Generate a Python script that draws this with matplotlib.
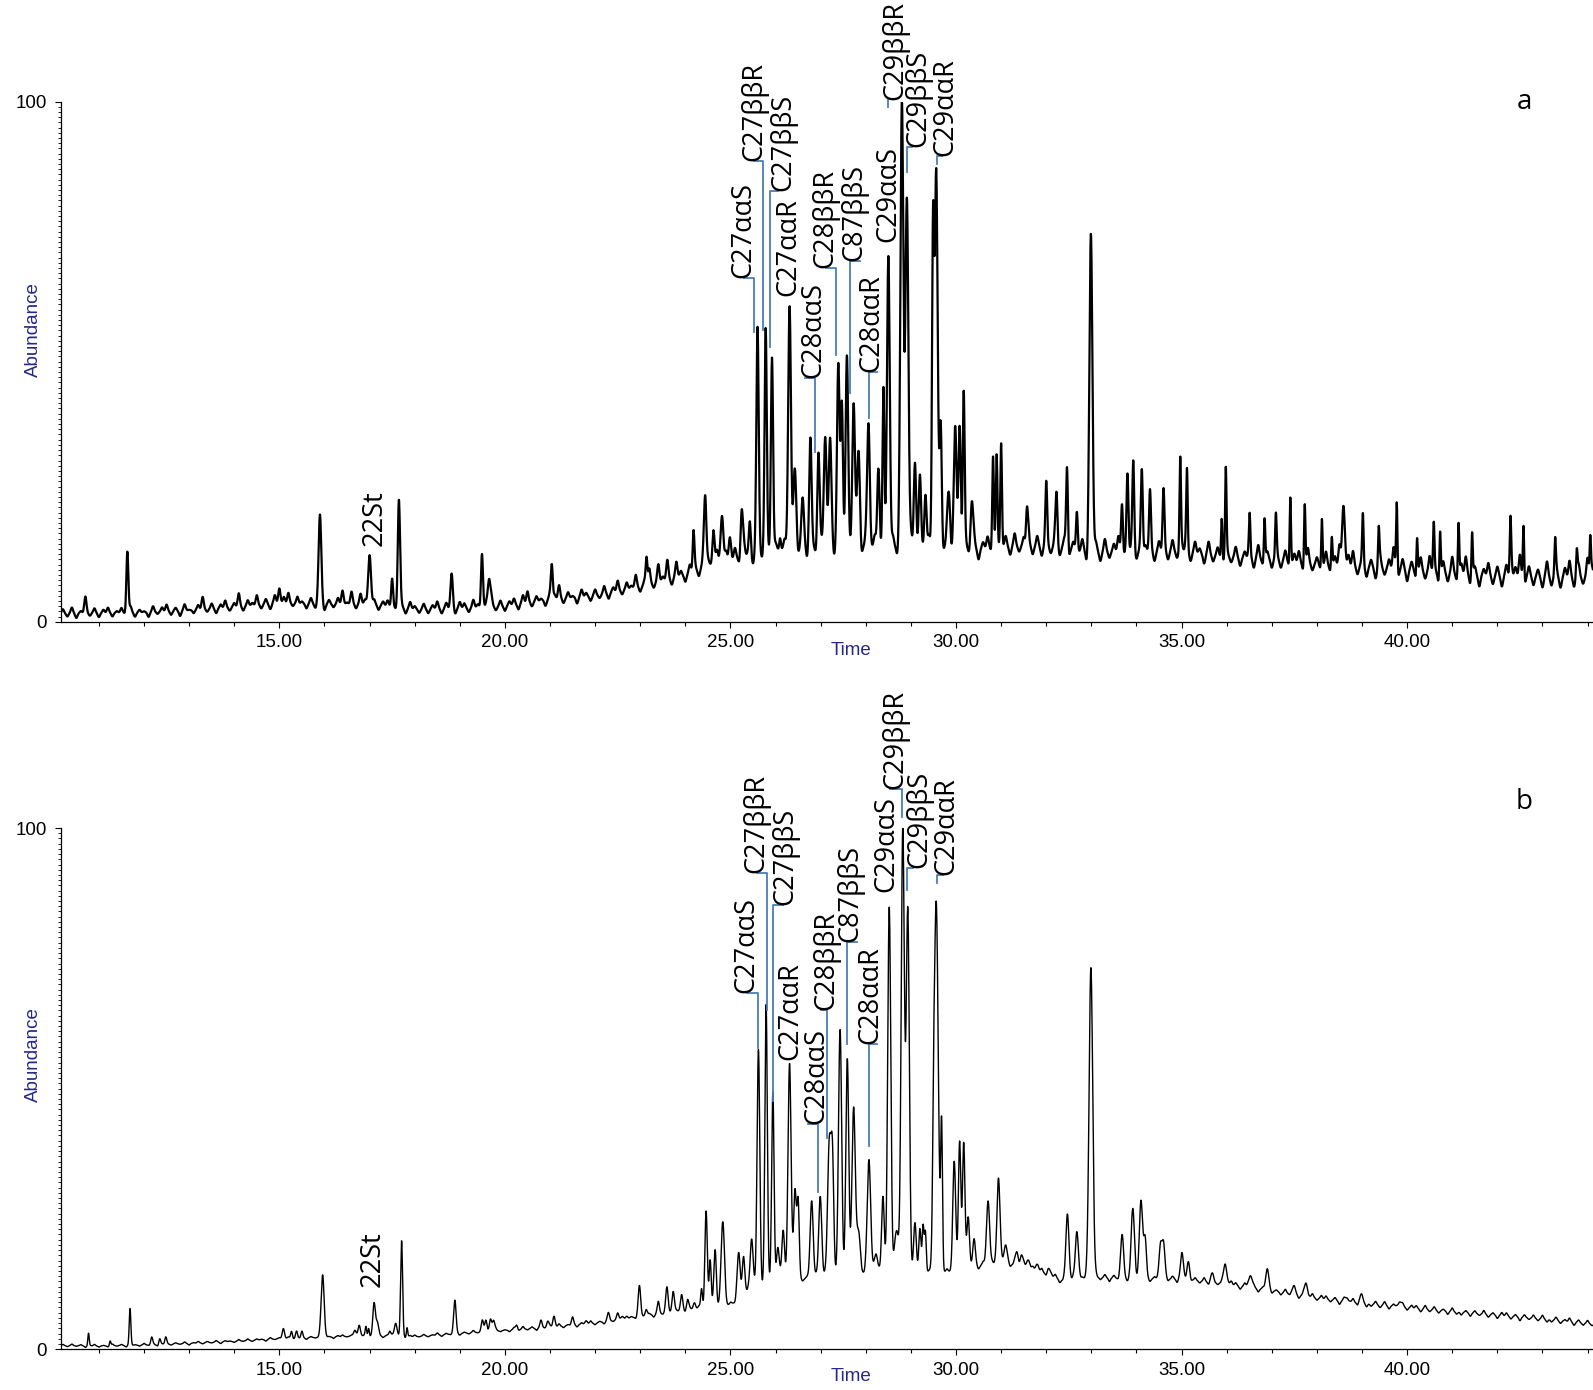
import numpy as np
import matplotlib.pyplot as plt
from matplotlib.ticker import MultipleLocator, FixedLocator

# ---- chromatogram a ----
# baseline knots: retention time (min) and level (% abundance)
base_t_a = [10.16, 12, 13, 14, 15, 16, 17, 18, 19, 20, 21, 22, 23, 24, 24.5, 25, 26, 27, 28, 29,
            30, 30.5, 31, 32, 33, 34, 35, 36, 37, 38, 39, 40, 41, 42, 43, 44.12]
base_a = [1.6, 1.8, 2.2, 2.8, 3.6, 3.4, 3.4, 2.4, 2.6, 3.0, 4.3, 5.0, 6.8, 9.0, 11.0, 12.0, 14.0, 14.5, 14.5, 14.5,
          14.5, 14.0, 14.5, 14.5, 13.5, 13.5, 13.5, 12.5, 12.0, 11.0, 10.5, 10.0, 9.3, 8.8, 8.6, 8.5]

# peaks: (retention time, height above baseline, sigma in min)
peaks_a = [
    (11.63, 12.0, 0.022), (15.90, 16.6, 0.03), (17.00, 10.0, 0.03), (17.50, 5.0, 0.02),
    (17.65, 20.7, 0.025), (18.82, 6.5, 0.025), (19.49, 8.0, 0.02), (19.65, 5.0, 0.025),
    (21.04, 6.4, 0.02), (23.14, 5.0, 0.018), (24.18, 6.6, 0.018), (24.44, 13.0, 0.025),
    (24.62, 7.4, 0.025), (24.81, 9.8, 0.03), (24.99, 5.6, 0.025), (25.25, 9.0, 0.025),
    (25.43, 6.0, 0.02), (25.60, 42.0, 0.026), (25.78, 41.5, 0.024), (25.92, 38.0, 0.024),
    (26.10, 4.0, 0.02), (26.31, 48.0, 0.03), (26.43, 14.0, 0.03), (26.60, 8.0, 0.03),
    (26.77, 20.0, 0.025), (26.95, 18.0, 0.025), (27.10, 22.0, 0.03), (27.21, 19.0, 0.03),
    (27.39, 34.0, 0.028), (27.47, 28.0, 0.025), (27.58, 35.0, 0.028), (27.73, 28.0, 0.03),
    (27.84, 18.0, 0.03), (28.06, 24.0, 0.03), (28.28, 16.0, 0.025), (28.39, 29.0, 0.02),
    (28.50, 57.0, 0.03), (28.80, 84.0, 0.033), (28.91, 68.0, 0.033), (29.09, 17.0, 0.025),
    (29.20, 12.0, 0.025), (29.32, 11.0, 0.025), (29.49, 60.0, 0.022), (29.56, 72.0, 0.032),
    (29.66, 24.0, 0.025), (29.84, 10.0, 0.03), (29.98, 22.0, 0.03), (30.08, 24.0, 0.025),
    (30.17, 29.0, 0.02), (30.35, 9.0, 0.03), (30.82, 18.5, 0.018), (30.90, 16.0, 0.018),
    (31.00, 21.0, 0.018), (31.57, 6.0, 0.02), (32.00, 9.0, 0.02), (32.23, 9.0, 0.02),
    (32.46, 16.0, 0.02), (32.68, 8.0, 0.02), (32.99, 62.5, 0.033), (33.68, 10.0, 0.02),
    (33.80, 11.0, 0.02), (33.93, 16.5, 0.02), (34.12, 14.0, 0.02), (34.30, 9.0, 0.02),
    (34.60, 9.0, 0.02), (34.97, 17.5, 0.016), (35.12, 14.5, 0.016), (35.89, 9.0, 0.015),
    (35.98, 16.0, 0.015), (36.51, 6.5, 0.015), (36.84, 8.0, 0.015), (37.09, 6.5, 0.015),
    (37.41, 14.0, 0.015), (37.73, 12.0, 0.015), (38.11, 10.5, 0.015), (38.33, 6.0, 0.015),
    (38.59, 13.0, 0.03), (39.02, 9.0, 0.015), (39.37, 7.0, 0.015), (39.77, 13.5, 0.015),
    (40.22, 7.5, 0.015), (40.59, 8.3, 0.015), (40.73, 8.7, 0.015), (41.14, 10.0, 0.015),
    (41.44, 8.5, 0.015), (42.29, 8.3, 0.015), (42.58, 11.0, 0.015), (43.28, 6.0, 0.015),
    (43.76, 5.0, 0.015), (44.06, 7.5, 0.015),
]

# noise of trace a, one value every 0.1 min starting at 10.2 min
noise_a = [
    0.8, -0.6, 1.1, -0.9, 0.4, 3.2, -0.5, 0.9, -0.8, 0.6,
    1.0, -0.7, 0.3, 0.9, -0.6, 1.2, -0.8, 0.5, 0.2, -0.9,
    1.1, -0.4, 0.8, 1.3, -0.7, 0.6, -1.0, 1.2, 0.1, -0.6,
    0.9, 2.4, -0.5, 1.0, -0.9, 0.7, 1.4, -0.6, 0.8, 2.6,
    -0.8, 1.1, 0.5, 1.9, -0.7, 1.0, -1.0, 1.6, 2.8, 1.2,
    2.0, -0.5, 1.3, 0.4, -0.9, 1.1, -0.8, 0.6, -1.2, 0.8,
    -0.6, 1.2, 2.6, 0.3, 2.4, -0.8, 2.0, 0.9, -0.6, 1.0,
    -0.9, 0.8, 1.1, 0.4, -0.7, 0.9, -1.0, 1.3, 0.6, -0.7,
    1.0, -0.8, 0.7, 1.4, -0.9, 1.1, 0.3, -1.0, 1.2, 0.9,
    -0.8, 1.5, 0.6, 2.4, 1.3, 2.0, -0.7, 1.1, -0.9, 0.8,
    1.2, -1.0, 1.6, 2.2, -0.8, 1.0, 0.4, -1.1, 1.3, 0.9,
    2.6, -0.9, 1.1, 0.3, -1.2, 1.4, 0.7, -0.9, 1.2, -0.6,
    1.5, -1.1, 0.9, 2.0, -0.8, 1.3, 0.5, 2.4, -1.0, 1.1,
    3.0, -0.9, 3.4, 0.8, 3.8, -1.2, 3.0, 1.0, -1.3, 1.6,
    1.8, -1.4, 2.1, 1.0, -1.6, 2.4, -1.2, 1.8, -1.5, 2.0,
    -1.3, 2.2, 1.0, -1.8, 1.5, -1.0, 2.0, -1.5, 1.2, -2.0,
    1.8, -1.6, 2.5, -1.2, 1.6, -2.0, 2.2, -1.5, 1.8, -1.0,
    2.0, -1.8, 1.2, -1.5, 2.4, -1.2, 1.6, -2.0, 1.5, -1.6,
    2.2, -1.5, 1.8, -1.2, 2.0, -1.8, 1.5, -1.3, 2.4, -1.0,
    1.8, -1.6, 2.2, -1.0, 1.5, -1.8, 2.0, -1.4, 1.6, -1.2,
    2.4, -1.8, 1.6, -2.0, 1.2, 2.2, -1.5, 1.8, -1.2, 2.0,
    -1.6, 2.5, -1.0, 1.8, 3.2, -1.5, 2.0, -1.8, 3.6, -1.2,
    3.5, -1.4, 2.0, -1.6, 1.5, -1.0, 2.2, -2.4, -1.5, 1.8,
    -1.8, 2.4, -1.2, 1.5, 3.0, -1.3, 4.0, 2.2, -1.4, 2.6,
    1.2, 3.0, -1.8, 2.0, 3.2, -1.5, 2.2, -1.2, 1.8, 2.4,
    -1.6, 2.2, 1.0, -1.8, 2.5, -1.2, 1.6, -2.0, 1.8, -1.0,
    2.0, -1.6, 1.2, 2.4, -1.8, 2.6, -1.0, 1.5, -1.6, 2.8,
    -1.4, 2.0, -1.8, 1.6, 2.2, -1.5, 3.0, -1.2, 1.4, -1.8,
    2.6, -1.2, 1.8, 4.0, -1.6, 2.2, 3.0, -1.4, 2.0, -1.8,
    1.5, -2.0, 2.4, -1.2, 1.8, 4.2, -1.5, 2.0, -2.2, 1.6,
    -1.8, 2.6, -1.4, 3.0, 1.5, -2.0, 2.2, -1.6, 3.2, -1.2,
    2.0, 3.4, -1.8, 1.6, -2.2, 1.2, 2.4, -1.6, 1.8, -2.0,
    2.2, 3.6, 1.8, 4.2, -1.8, 2.0, -1.6, 1.4, -2.0, 3.0,
    -1.6, 2.4, -2.0, 1.8, 3.2, -1.8, 2.6, -1.2, 3.8, 2.0,
]

# ---- chromatogram b ----
base_t_b = [10.16, 11, 12, 13, 14, 15, 16, 17, 18, 19, 20, 21, 22, 23, 24, 25, 25.5, 26, 26.6, 27,
            28, 29, 30, 30.5, 31, 31.5, 32, 32.4, 33, 34, 35, 36, 37, 38, 39, 40, 41, 42, 43, 44.12]
base_b = [0.7, 0.6, 0.8, 1.1, 1.5, 2.0, 2.3, 2.6, 2.4, 3.0, 3.6, 4.2, 5.0, 6.3, 7.5, 8.5, 12.0, 13.5, 13.5, 14.0,
          14.5, 14.5, 15.0, 16.0, 16.5, 16.0, 14.5, 13.0, 13.8, 13.5, 13.5, 12.5, 11.2, 9.8, 8.8, 8.0, 7.2, 6.5, 5.8, 4.8]

peaks_b = [
    (10.77, 2.4, 0.015), (11.25, 0.9, 0.015), (11.69, 6.9, 0.018), (12.17, 1.4, 0.02),
    (12.35, 1.1, 0.02), (12.48, 1.2, 0.02), (15.09, 2.1, 0.025), (15.27, 1.4, 0.02),
    (15.38, 1.3, 0.02), (15.50, 1.0, 0.02), (15.96, 12.0, 0.033), (16.68, 1.3, 0.03),
    (16.77, 2.0, 0.025), (16.92, 1.6, 0.015), (16.98, 1.5, 0.015), (17.10, 6.0, 0.028),
    (17.17, 2.5, 0.03), (17.45, 0.9, 0.02), (17.58, 2.6, 0.03), (17.71, 18.3, 0.022),
    (17.83, 1.8, 0.015), (18.89, 6.2, 0.027), (19.50, 2.0, 0.025), (19.58, 2.4, 0.025),
    (19.68, 2.2, 0.025), (19.75, 2.0, 0.025), (20.26, 0.9, 0.025), (20.80, 1.0, 0.025),
    (20.95, 1.2, 0.025), (21.09, 2.4, 0.025), (21.50, 1.2, 0.025), (21.80, 0.8, 0.025),
    (22.29, 1.2, 0.025), (22.50, 1.0, 0.025), (22.60, 1.0, 0.025), (22.98, 5.6, 0.027),
    (23.13, 1.2, 0.025), (23.40, 2.0, 0.025), (23.59, 4.5, 0.027), (23.73, 4.0, 0.027),
    (23.92, 2.8, 0.025), (24.05, 2.0, 0.025), (24.20, 1.5, 0.025), (24.36, 3.8, 0.02),
    (24.46, 18.5, 0.027), (24.55, 9.0, 0.022), (24.66, 11.0, 0.028), (24.83, 16.0, 0.038),
    (25.18, 8.5, 0.033), (25.29, 7.5, 0.028), (25.47, 9.5, 0.033), (25.62, 45.0, 0.03),
    (25.79, 53.0, 0.027), (25.94, 36.0, 0.026), (26.05, 6.0, 0.03), (26.17, 9.5, 0.03),
    (26.31, 41.0, 0.034), (26.43, 17.0, 0.03), (26.50, 14.0, 0.025), (26.80, 15.0, 0.033),
    (26.99, 15.5, 0.033), (27.19, 25.0, 0.037), (27.26, 22.0, 0.03), (27.43, 47.0, 0.035),
    (27.59, 41.0, 0.032), (27.73, 32.0, 0.037), (27.84, 8.0, 0.04), (28.07, 22.0, 0.038),
    (28.22, 4.0, 0.04), (28.38, 15.0, 0.03), (28.52, 70.0, 0.034), (28.68, 8.0, 0.05),
    (28.82, 85.0, 0.035), (28.93, 70.0, 0.035), (29.09, 10.0, 0.03), (29.20, 8.0, 0.025),
    (29.27, 9.0, 0.02), (29.32, 8.0, 0.02), (29.50, 12.0, 0.02), (29.56, 71.0, 0.045),
    (29.68, 28.0, 0.02), (29.96, 21.0, 0.032), (30.08, 25.0, 0.027), (30.17, 24.0, 0.027),
    (30.27, 10.0, 0.03), (30.40, 5.0, 0.03), (30.71, 12.5, 0.034), (30.94, 16.5, 0.034),
    (31.10, 3.0, 0.04), (31.35, 2.5, 0.03), (31.45, 2.0, 0.03), (31.60, 2.0, 0.03),
    (31.80, 1.5, 0.03), (32.05, 1.2, 0.03), (32.47, 13.0, 0.034), (32.68, 9.5, 0.034),
    (32.99, 60.0, 0.04), (33.68, 8.0, 0.033), (33.92, 13.0, 0.037), (34.10, 14.5, 0.037),
    (34.19, 7.0, 0.03), (34.53, 6.5, 0.033), (34.60, 6.0, 0.033), (35.01, 4.5, 0.033),
    (35.15, 3.5, 0.033), (35.67, 1.5, 0.03), (35.97, 4.0, 0.037), (36.52, 2.5, 0.04),
    (36.90, 3.5, 0.037), (37.48, 1.2, 0.04), (37.76, 2.6, 0.037), (38.67, 0.8, 0.04),
    (38.98, 1.5, 0.035), (39.83, 1.0, 0.04),
]

# noise of trace b, one value every 0.1 min starting at 10.2 min
noise_b = [
    0.2, -0.2, 0.3, -0.1, 0.2, -0.3, 0.1, 0.3, -0.2, 0.1,
    -0.2, 0.3, -0.1, 0.2, -0.3, 0.2, 0.1, -0.2, 0.3, -0.1,
    0.2, -0.3, 0.1, 0.3, -0.2, 0.2, -0.1, 0.3, -0.3, 0.1,
    0.3, -0.2, 0.2, -0.1, 0.3, -0.3, 0.2, 0.1, -0.2, 0.3,
    -0.1, 0.3, -0.2, 0.2, 0.1, -0.3, 0.3, -0.1, 0.2, -0.2,
    0.3, -0.2, 0.1, 0.3, -0.3, 0.2, -0.1, 0.3, -0.2, 0.1,
    -0.3, 0.2, 0.3, -0.1, 0.2, -0.3, 0.1, 0.3, -0.2, 0.2,
    0.1, -0.3, 0.2, 0.3, -0.2, 0.1, -0.3, 0.2, 0.3, -0.1,
    0.3, -0.2, 0.1, 0.4, -0.3, 0.2, -0.1, 0.3, -0.3, 0.2,
    -0.2, 0.4, -0.1, 0.3, -0.3, 0.2, 0.4, -0.2, 0.1, -0.3,
    0.4, -0.3, 0.5, -0.2, 0.3, -0.4, 0.5, -0.1, 0.3, -0.4,
    0.5, -0.3, 0.2, 0.4, -0.4, 0.3, -0.2, 0.5, -0.3, 0.2,
    -0.4, 0.5, -0.2, 0.3, -0.5, 0.4, 0.2, -0.3, 0.5, -0.2,
    0.3, -0.5, 0.4, -0.2, 0.5, -0.3, 0.2, 0.4, -0.4, 0.3,
    -0.3, 0.5, -0.4, 0.2, 0.4, -0.5, 0.3, -0.2, 0.5, -0.4,
    0.4, -0.3, 0.5, -0.4, 0.2, -0.5, 0.4, 0.3, -0.3, 0.5,
    -0.5, 0.4, -0.2, 0.5, -0.4, 0.3, -0.3, 0.5, -0.2, 0.4,
    0.3, -0.5, 0.4, -0.3, 0.5, -0.2, 0.4, -0.5, 0.3, -0.3,
    -0.4, 0.5, -0.3, 0.4, -0.5, 0.3, 0.5, -0.4, 0.2, -0.3,
    0.5, -0.4, 0.3, -0.5, 0.4, -0.2, 0.5, -0.3, 0.4, -0.5,
    0.6, -0.5, 0.4, -0.6, 0.7, -0.3, 0.5, -0.6, 0.4, 0.6,
    -0.5, 0.7, -0.4, 0.6, -0.6, 0.5, -0.3, 0.7, -0.5, 0.4,
    0.6, -0.6, 0.5, -0.4, 0.7, -0.5, 0.3, 0.6, -0.6, 0.5,
    -0.4, 0.6, -0.7, 0.5, -0.3, 0.6, -0.5, 0.7, -0.4, 0.5,
    0.7, -0.5, 0.4, -0.6, 0.6, -0.4, 0.5, -0.7, 0.6, -0.3,
    -0.6, 0.5, -0.4, 0.7, -0.5, 0.6, -0.3, 0.5, -0.6, 0.7,
    0.5, -0.6, 0.7, -0.4, 0.5, -0.6, 0.4, 0.6, -0.5, 0.3,
    -0.5, 0.7, -0.3, 0.6, -0.6, 0.4, -0.5, 0.7, -0.4, 0.6,
    0.6, -0.4, 0.5, -0.7, 0.6, -0.3, 0.7, -0.5, 0.4, -0.6,
    -0.4, 0.6, -0.5, 0.7, -0.6, 0.4, -0.3, 0.6, -0.5, 0.5,
    0.5, -0.6, 0.7, -0.4, 0.6, -0.5, 0.3, -0.6, 0.7, -0.4,
    -0.5, 0.4, -0.6, 0.5, -0.3, 0.7, -0.5, 0.4, -0.6, 0.6,
    0.6, -0.5, 0.4, -0.7, 0.5, -0.3, 0.6, -0.4, 0.7, -0.5,
    -0.4, 0.6, -0.5, 0.3, 0.7, -0.6, 0.5, -0.4, 0.6, -0.3,
]

# peak labels: text, text x, text bottom, bracket start x, bracket line x, line end y
labels_a = [
    ("22St", 17.12, 14.6, None, None, None),
    ("C27ααS", 25.29, 66.0, 25.29, 25.52, 55.7),
    ("C27ββR", 25.53, 88.5, 25.53, 25.73, 56.1),
    ("C27ββS", 26.17, 82.8, 26.06, 25.88, 52.9),
    ("C27ααR", 26.29, 62.7, None, None, None),
    ("C28ααS", 26.84, 46.8, 26.65, 26.88, 32.7),
    ("C28ββR", 27.11, 68.1, 27.11, 27.34, 51.2),
    ("C87ββS", 27.75, 69.4, 27.87, 27.65, 44.0),
    ("C28ααR", 28.13, 48.0, 28.24, 28.06, 39.1),
    ("C29ααS", 28.50, 73.0, None, None, None),
    ("C29ββR", 28.65, 100.4, 28.50, 28.50, 99.0),
    ("C29ββS", 29.16, 91.2, 29.02, 28.91, 86.4),
    ("C29ααR", 29.76, 89.6, 29.68, 29.57, 88.1),
]
labels_b = [
    ("22St", 17.07, 11.9, None, None, None),
    ("C27ααS", 25.36, 68.3, 25.36, 25.60, 57.8),
    ("C27ββR", 25.58, 91.3, 25.58, 25.80, 65.1),
    ("C27ββS", 26.21, 85.3, 26.17, 25.95, 47.7),
    ("C27ααR", 26.32, 55.5, None, None, None),
    ("C28ααS", 26.90, 43.2, 26.71, 26.95, 30.1),
    ("C28ββR", 27.13, 65.0, 27.00, 27.15, 40.6),
    ("C87ββS", 27.65, 78.2, 27.80, 27.58, 58.5),
    ("C28ααR", 28.10, 58.5, 28.24, 28.06, 38.9),
    ("C29ααS", 28.45, 87.8, None, None, None),
    ("C29ββR", 28.66, 107.4, 28.54, 28.80, 102.2),
    ("C29ββS", 29.19, 92.3, 29.05, 28.91, 88.1),
    ("C29ααR", 29.78, 91.0, 29.72, 29.57, 89.4),
]

NAVY = '#27278a'
BRACKET = '#4a7ebb'
LABEL_FONT = 'Open Sans'
AXIS_FONT = 'Liberation Sans'
T0, T1 = 10.16, 44.12


def build_trace(t, base_t, base_v, peaks, noise, noise_w):
    y = np.interp(t, base_t, base_v)
    for c, h, w in peaks:
        y = y + h * np.exp(-0.5 * ((t - c) / w) ** 2)
    for k, h in enumerate(noise):
        y = y + h * np.exp(-0.5 * ((t - (10.2 + 0.1 * k)) / noise_w) ** 2)
    return y


def draw_panel(ax, y, t, labels, tag, tag_y, lw):
    ax.plot(t, y, color='black', lw=lw)
    ax.set_xlim(T0, T1)
    ax.set_ylim(0, 100)
    for s in ['top', 'right']:
        ax.spines[s].set_visible(False)
    ax.spines['left'].set_linewidth(0.9)
    ax.spines['bottom'].set_linewidth(0.9)

    ax.xaxis.set_major_locator(MultipleLocator(5))
    ax.xaxis.set_minor_locator(MultipleLocator(1))
    ax.xaxis.set_major_formatter(lambda v, p: f"{v:.2f}")
    ax.yaxis.set_major_locator(FixedLocator([0, 100]))
    ax.yaxis.set_minor_locator(MultipleLocator(1))
    ax.tick_params(axis='x', which='major', length=4, width=0.8, pad=5, labelsize=13.5)
    ax.tick_params(axis='x', which='minor', length=3, width=0.8)
    ax.tick_params(axis='y', which='major', length=4, width=0.8, pad=6, labelsize=13.5)
    ax.tick_params(axis='y', which='minor', length=2.5, width=0.6)
    for lab in ax.get_xticklabels() + ax.get_yticklabels():
        lab.set_fontfamily(AXIS_FONT)

    for text, tx, ty, hx, lx, ly in labels:
        ax.text(tx, ty, text, rotation=90, ha='center', va='bottom', fontsize=19.5,
                family=LABEL_FONT, clip_on=False)
        if lx is not None:
            ax.plot([hx, lx, lx], [ty, ty, ly], color=BRACKET, lw=1.3, clip_on=False)

    ax.text(42.6, tag_y, tag, ha='center', va='center', fontsize=20, family=LABEL_FONT)


t = np.arange(T0, T1, 0.004)
trace_a = build_trace(t, base_t_a, base_a, peaks_a, noise_a, 0.024)
trace_b = build_trace(t, base_t_b, base_b, peaks_b, noise_b, 0.022)

fig = plt.figure(figsize=(15.93, 13.90), dpi=100)
ax_a = fig.add_axes([0.0383, 0.5527, 0.9617, 0.3742])
ax_b = fig.add_axes([0.0383, 0.0294, 0.9617, 0.3749])

draw_panel(ax_a, trace_a, t, labels_a, 'a', 100, 1.6)
draw_panel(ax_b, trace_b, t, labels_b, 'b', 105, 1.0)

for yy in [0.7626, 0.2413]:
    fig.text(0.021, yy, 'Abundance', rotation=90, ha='center', va='center',
             color=NAVY, fontsize=13.5, family=AXIS_FONT)
for yy in [0.5322, 0.0096]:
    fig.text(0.5345, yy, 'Time', ha='center', va='center', color=NAVY,
             fontsize=13.5, family=AXIS_FONT)

fig.savefig('out.png', dpi=100)
